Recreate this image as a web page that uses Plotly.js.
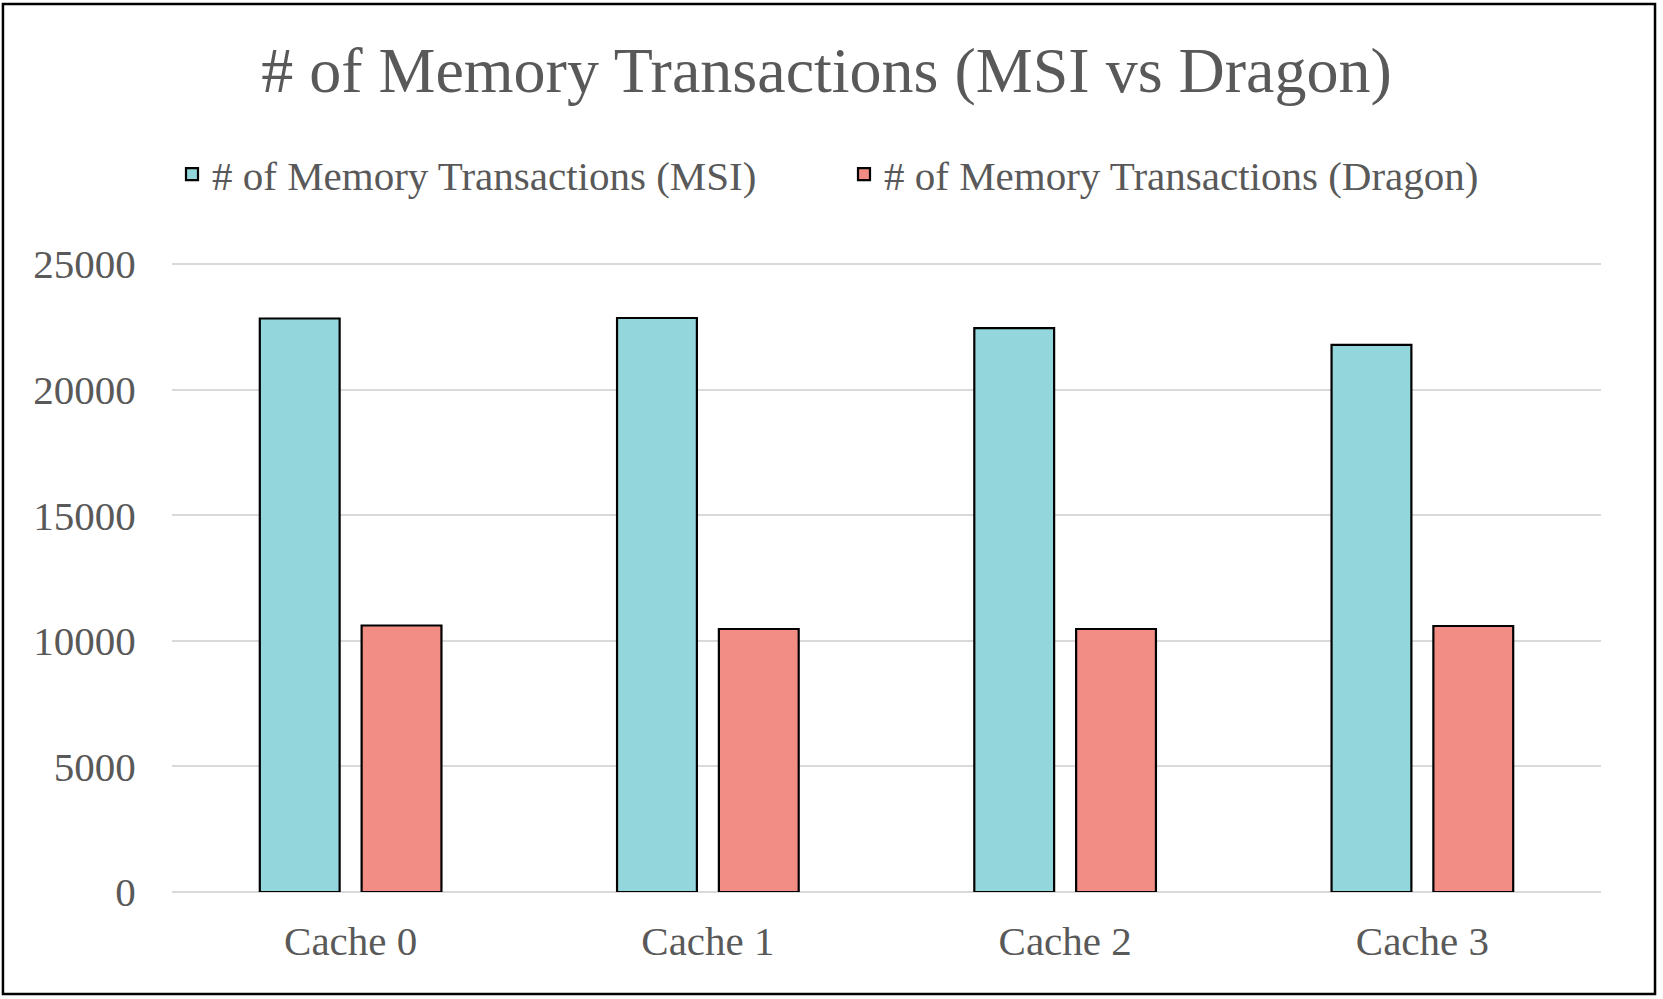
<!DOCTYPE html>
<html>
<head>
<meta charset="utf-8">
<script src="https://cdn.plot.ly/plotly-3.0.1.min.js"></script>
<style>html,body{margin:0;padding:0;background:#fff;}#chart{width:1663px;height:999px;}</style>
</head>
<body>
<div id="chart"></div>
<script>
const categories = ["Cache 0", "Cache 1", "Cache 2", "Cache 3"];
const msiValues = [22830, 22850, 22450, 21780];
const dragonValues = [10610, 10470, 10470, 10590];
const seriesNames = ["# of Memory Transactions (MSI)", "# of Memory Transactions (Dragon)"];
const yTicks = [0, 5000, 10000, 15000, 20000, 25000];

const font = "Liberation Serif, Times New Roman, serif";
const txt = "#595959";

const traces = [
  {type: "bar", name: seriesNames[0], x: categories, y: msiValues,
   marker: {color: "#93D7DD", line: {color: "#000000", width: 2.2}}},
  {type: "bar", name: seriesNames[1], x: categories, y: dragonValues,
   marker: {color: "#F28D85", line: {color: "#000000", width: 2.2}}}
];

const layout = {
  width: 1663, height: 999,
  margin: {l: 172, r: 62, t: 262, b: 107},
  paper_bgcolor: "#ffffff", plot_bgcolor: "#ffffff",
  font: {family: font, color: txt},
  title: {text: "# of Memory Transactions (MSI vs Dragon)", font: {family: font, size: 64, color: txt},
          x: 0.497, xref: "container", xanchor: "center", y: 0.93, yref: "container", yanchor: "middle"},
  barmode: "group", bargap: 0.43, bargroupgap: 0.216,
  showlegend: true,
  legend: {orientation: "h", x: 0, xanchor: "left", y: 1.139, yanchor: "middle",
           font: {family: font, size: 41, color: txt}, entrywidth: 627, entrywidthmode: "pixels",
           bgcolor: "rgba(0,0,0,0)"},
  xaxis: {type: "category", tickfont: {family: font, size: 41, color: txt},
          ticks: "outside", ticklen: 13, tickcolor: "rgba(0,0,0,0)", showline: false, showgrid: false},
  yaxis: {range: [0, 25080], tickvals: yTicks, ticktext: yTicks.map(String),
          tickfont: {family: font, size: 41, color: txt},
          showgrid: true, gridcolor: "#d9d9d9", gridwidth: 2,
          zeroline: true, zerolinecolor: "#d9d9d9", zerolinewidth: 2,
          ticks: "outside", ticklen: 27, tickcolor: "rgba(0,0,0,0)", showline: false},
  shapes: [{type: "rect", xref: "paper", yref: "paper",
            x0: -0.1183, x1: 1.0378, y0: -0.1619, y1: 1.4095,
            line: {color: "#000000", width: 2.5}, fillcolor: "rgba(0,0,0,0)", layer: "above"}]
};

Plotly.newPlot("chart", traces, layout, {displayModeBar: false, staticPlot: true});
</script>
</body>
</html>
